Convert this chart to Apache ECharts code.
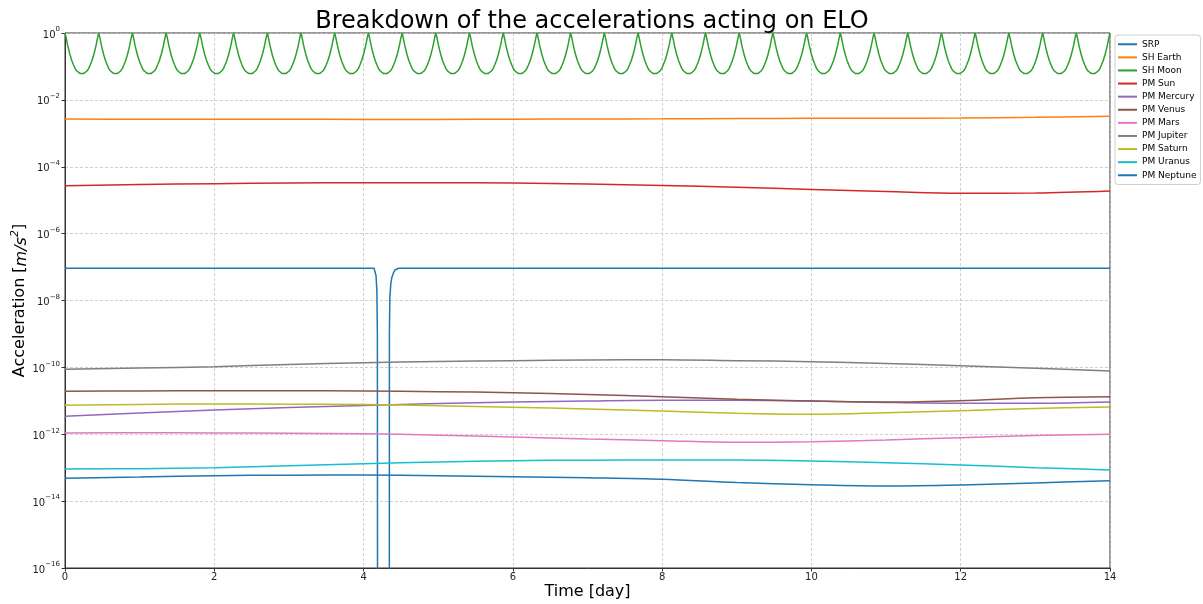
<!DOCTYPE html>
<html><head><meta charset="utf-8">
<script src="https://cdn.jsdelivr.net/npm/echarts@6/dist/echarts.min.js"></script>
<style>html,body{margin:0;padding:0;background:#fff}#c{width:1203px;height:604px}</style>
</head><body><div id="c"></div>
<script>
// ---- data ----
const seriesNames = ['SRP','SH Earth','SH Moon','PM Sun','PM Mercury','PM Venus','PM Mars','PM Jupiter','PM Saturn','PM Uranus','PM Neptune'];
const seriesColors = ['#1f77b4','#ff7f0e','#2ca02c','#d62728','#9467bd','#8c564b','#e377c2','#7f7f7f','#bcbd22','#17becf','#1f77b4'];
const xTicks = [0,2,4,6,8,10,12,14];

const days = [0,1,2,3,4,5,6,7,8,9,10,11,12,13,14];
const earthAcc   = [2.68e-3,2.64e-3,2.62e-3,2.62e-3,2.61e-3,2.61e-3,2.64e-3,2.68e-3,2.72e-3,2.77e-3,2.81e-3,2.83e-3,2.87e-3,3.01e-3,3.23e-3];
const sunAcc     = [2.72e-5,2.93e-5,3.11e-5,3.27e-5,3.33e-5,3.33e-5,3.27e-5,3.05e-5,2.75e-5,2.43e-5,2.09e-5,1.82e-5,1.61e-5,1.64e-5,1.88e-5];
const mercuryAcc = [3.45e-12,4.33e-12,5.32e-12,6.33e-12,7.26e-12,8.32e-12,9.23e-12,9.89e-12,1.04e-11,1.04e-11,9.89e-12,8.92e-12,8.44e-12,8.44e-12,9.23e-12];
const venusAcc   = [1.93e-11,1.97e-11,2.01e-11,2.0e-11,1.97e-11,1.88e-11,1.75e-11,1.55e-11,1.33e-11,1.12e-11,9.9e-12,9.2e-12,1.01e-11,1.24e-11,1.33e-11];
const marsAcc    = [1.09e-12,1.11e-12,1.09e-12,1.07e-12,1.04e-12,9.38e-13,8.29e-13,7.23e-13,6.43e-13,5.75e-13,6.0e-13,6.74e-13,7.9e-13,9.12e-13,1.0e-12];
const jupiterAcc = [8.77e-11,9.59e-11,1.05e-10,1.22e-10,1.38e-10,1.50e-10,1.59e-10,1.66e-10,1.70e-10,1.59e-10,1.48e-10,1.31e-10,1.12e-10,9.40e-11,7.80e-11];
const saturnAcc  = [7.36e-12,7.78e-12,8.05e-12,7.96e-12,7.78e-12,7.16e-12,6.41e-12,5.70e-12,4.97e-12,4.25e-12,3.96e-12,4.39e-12,5.07e-12,5.90e-12,6.55e-12];
const uranusAcc  = [9.15e-14,9.35e-14,1.0e-13,1.14e-13,1.32e-13,1.48e-13,1.62e-13,1.68e-13,1.70e-13,1.70e-13,1.59e-13,1.41e-13,1.21e-13,1.0e-13,8.55e-14];
const neptuneAcc = [4.83e-14,5.28e-14,5.78e-14,5.98e-14,6.05e-14,5.78e-14,5.39e-14,5.0e-14,4.51e-14,3.61e-14,3.10e-14,2.84e-14,3.04e-14,3.49e-14,4.09e-14];

// SRP: constant with an eclipse near day 4.2 (values below the axis floor are drawn off-chart)
const srpDays = [0,4.14,4.155,4.167,4.178,4.185,4.19,4.344,4.346,4.352,4.365,4.378,4.398,4.42,4.445,4.47,14];
const srpAcc  = [9.2e-8,9.2e-8,8.5e-8,5.5e-8,2e-8,1e-9,1e-30,1e-30,1e-9,1.2e-8,3.2e-8,4.8e-8,6.5e-8,8.2e-8,9.1e-8,9.2e-8,9.2e-8];

// SH Moon: periapsis times (peaks) and one orbit's profile
const moonPeakDays = [0,0.452,0.903,1.355,1.806,2.258,2.710,3.161,3.613,4.065,4.516,4.968,5.419,5.871,6.323,6.774,7.226,7.677,8.129,8.581,9.032,9.484,9.935,10.387,10.839,11.290,11.742,12.194,12.645,13.097,13.548,14.0];
const moonCycleFrac = [0,0.025,0.05,0.075,0.1,0.15,0.2,0.25,0.3,0.35,0.4,0.45,0.5,0.55,0.6,0.65,0.7,0.75,0.8,0.85,0.9,0.925,0.95,0.975];
const moonCycleAcc  = [1.0,0.794,0.603,0.447,0.347,0.219,0.151,0.112,0.086,0.073,0.065,0.061,0.0595,0.061,0.065,0.073,0.086,0.112,0.151,0.219,0.347,0.447,0.603,0.794];

// ---- build ----
const FONT = 'DejaVu Sans';
function pairs(xs, ys){ return xs.map((x,i)=>[x, ys[i]]); }
const moonData = [];
for (let k = 0; k < moonPeakDays.length - 1; k++) {
  const t0 = moonPeakDays[k], t1 = moonPeakDays[k+1];
  for (let j = 0; j < moonCycleFrac.length; j++) moonData.push([t0 + moonCycleFrac[j]*(t1-t0), moonCycleAcc[j]]);
}
moonData.push([moonPeakDays[moonPeakDays.length-1], moonCycleAcc[0]]);

const dataList = [
  pairs(srpDays, srpAcc),
  pairs(days, earthAcc),
  moonData,
  pairs(days, sunAcc),
  pairs(days, mercuryAcc),
  pairs(days, venusAcc),
  pairs(days, marsAcc),
  pairs(days, jupiterAcc),
  pairs(days, saturnAcc),
  pairs(days, uranusAcc),
  pairs(days, neptuneAcc)
];

const series = seriesNames.map((n,i)=>({
  name: n, type: 'line', data: dataList[i],
  showSymbol: false, symbol: 'none', clip: true,
  smooth: (i === 0 || i === 2) ? false : 0.35,
  lineStyle: { width: 1.5, color: seriesColors[i] },
  itemStyle: { color: seriesColors[i] },
  emphasis: { disabled: true },
  z: 2 + i
}));

function supLabel(v){
  const e = Math.round(Math.log10(v));
  const s = e < 0 ? '\u2212' + (-e) : String(e);
  return '{b|10}{s|' + s + '}';
}

const chart = echarts.init(document.getElementById('c'), null, {renderer: 'canvas'});
chart.setOption({
  animation: false,
  backgroundColor: '#fff',
  title: {
    text: 'Breakdown of the accelerations acting on ELO',
    left: 587, top: 5, textAlign: 'center',
    textStyle: { fontFamily: FONT, fontSize: 24, fontWeight: 'normal', color: '#000' }
  },
  legend: {
    data: seriesNames, orient: 'vertical', left: 1115, top: 35,
    icon: 'rect', itemWidth: 19, itemHeight: 2, itemGap: 2.6,
    padding: [4, 4, 4, 3],
    borderColor: '#d0d0d0', borderWidth: 1, borderRadius: 3,
    backgroundColor: '#fff',
    textStyle: { fontFamily: FONT, fontSize: 9, color: '#000', lineHeight: 10.5 }
  },
  grid: { left: 65, right: 93, top: 33, bottom: 36, containLabel: false, outerBoundsMode: 'none',
    show: true, borderColor: '#333', borderWidth: 1, backgroundColor: 'transparent' },
  xAxis: {
    type: 'value', min: 0, max: 14, interval: 2,
    name: 'Time [day]', nameLocation: 'middle', nameGap: 16, nameMoveOverlap: false,
    nameTextStyle: { fontFamily: FONT, fontSize: 16, color: '#000' },
    axisLine: { show: true, lineStyle: { color: '#333', width: 1 } },
    axisTick: { show: true, length: 3.5, lineStyle: { color: '#333' } },
    axisLabel: { fontFamily: FONT, fontSize: 10, color: '#222', margin: 4 },
    splitLine: { show: true, lineStyle: { color: '#c4c4c4', type: [3, 2], width: 0.8 } }
  },
  yAxis: {
    type: 'log', logBase: 10, min: 1e-16, max: 1, interval: 2,
    name: 'Acceleration [{i|m/s}{p|2}]', nameLocation: 'middle', nameGap: 35, nameMoveOverlap: false,
    nameTextStyle: { fontFamily: FONT, fontSize: 16, color: '#000',
      rich: {
        i: { fontFamily: FONT, fontSize: 16, fontStyle: 'italic', color: '#000', lineHeight: 20, verticalAlign: 'bottom' },
        p: { fontFamily: FONT, fontSize: 11, fontStyle: 'italic', color: '#000', lineHeight: 20, verticalAlign: 'top' }
      } },
    axisLine: { show: true, lineStyle: { color: '#333', width: 1 } },
    axisTick: { show: true, length: 3.5, lineStyle: { color: '#333' } },
    axisLabel: {
      margin: 5, formatter: supLabel,
      rich: {
        b: { fontFamily: FONT, fontSize: 10, color: '#222', lineHeight: 14, verticalAlign: 'bottom' },
        s: { fontFamily: FONT, fontSize: 7, color: '#222', lineHeight: 14, verticalAlign: 'top' }
      }
    },
    splitLine: { show: true, lineStyle: { color: '#c4c4c4', type: [3, 2], width: 0.8 } },
    minorTick: { show: false }
  },
  series: series
});
</script>
</body></html>
